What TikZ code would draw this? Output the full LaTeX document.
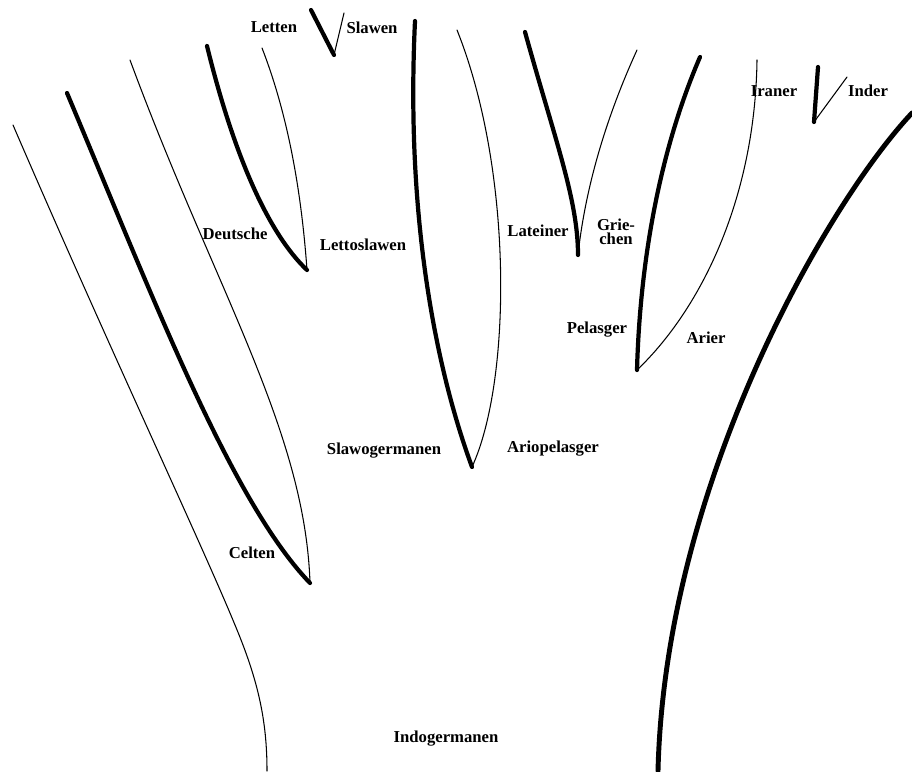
\documentclass[tikz,border=0pt]{standalone}
\usepackage{fontspec}
\setmainfont{Liberation Serif}
\usepackage{tikz}

\begin{document}
\begin{tikzpicture}[
  x=0.02cm, y=-0.02cm,
  thickbranch/.style={line width=2.4pt, line cap=round, line join=round},
  thinbranch/.style={line width=0.6pt, line cap=round},
  trunk/.style={line width=2.8pt, line cap=round},
  lbl/.style={font=\fontsize{9.5}{10}\selectfont\bfseries, inner sep=1pt, align=center}
]
\useasboundingbox (0,0) rectangle (912,771);

% left side
\draw[thinbranch] (13,125) .. controls (110,350) and (200,540) .. (235,625) .. controls (258,680) and (267,720) .. (267,771);
\draw[thickbranch] (67,93) .. controls (150,290) and (230,500) .. (310,583);
\draw[thinbranch] (130,60) .. controls (215,290) and (305,430) .. (310,583);
\draw[thickbranch] (207,46) .. controls (235,160) and (270,235) .. (307,270);
\draw[thinbranch] (262,48) .. controls (290,120) and (302,200) .. (307,270);
\draw[thickbranch] (311,10) -- (334,55);
\draw[thinbranch] (344,13) -- (334,55);

% middle
\draw[thickbranch] (415,21) .. controls (405,230) and (440,380) .. (472,467);
\draw[thinbranch] (457,30) .. controls (513,170) and (512,380) .. (472,467);
\draw[thickbranch] (525,32) .. controls (555,140) and (578,200) .. (578,255);
\draw[thinbranch] (637,50) .. controls (605,120) and (585,190) .. (578,255);

% right side
\draw[thickbranch] (700,57) .. controls (660,150) and (640,260) .. (637,370);
\draw[thinbranch] (757,60) .. controls (755,200) and (700,310) .. (637,370);
\draw[thickbranch] (818,67) -- (814,122);
\draw[thinbranch] (847,77) -- (814,122);
\draw[trunk] (912,113) .. controls (830,200) and (665,480) .. (658,771);

% labels
\node[lbl] (letten) at (274,27) {Letten};
\node[lbl] (slawen) at (372,28) {Slawen};
\node[lbl] (deutsche) at (235,234) {Deutsche};
\node[lbl] (lettoslawen) at (363,245) {Lettoslawen};
\node[lbl] (lateiner) at (538,231) {Lateiner};
\node[lbl] (griechen) at (616,232) {Grie-\\[-2pt]chen};
\node[lbl] (pelasger) at (597,330) {Pelasger};
\node[lbl] (arier) at (706,338) {Arier};
\node[lbl] (iraner) at (774,91) {Iraner};
\node[lbl] (inder) at (868,91) {Inder};
\node[lbl] (slawogermanen) at (384,451) {Slawogermanen};
\node[lbl] (ariopelasger) at (553,449) {Ariopelasger};
\node[lbl] (celten) at (252,553) {Celten};
\node[lbl] (indogermanen) at (446,739) {Indogermanen};
\end{tikzpicture}
\end{document}
